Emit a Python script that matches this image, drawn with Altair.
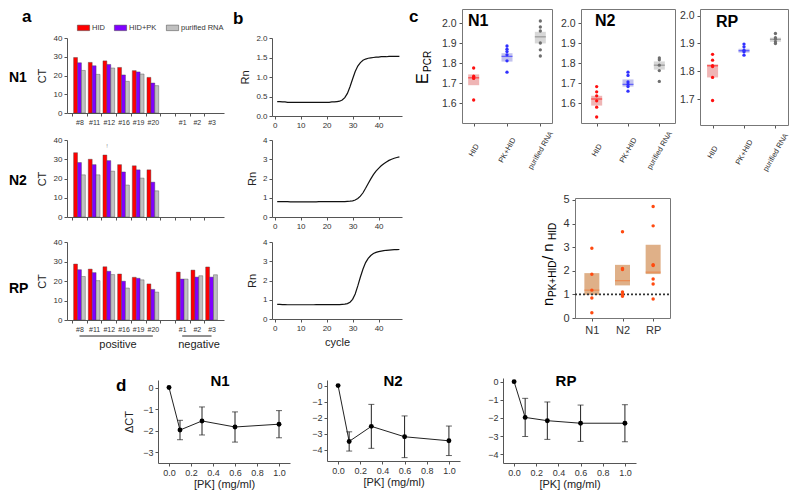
import altair as alt
import pandas as pd

FONT = "Liberation Sans"
W, H = 784, 482
M = 8


def px(v):
    return v - M


ONE = pd.DataFrame({"k": [0]})

# ---------------- panel a : CT bars ----------------
slots = ["#8", "#11", "#12", "#16", "#19", "#20", " ", "#1", "#2", "#3"]
samples_pos = ["#8", "#11", "#12", "#16", "#19", "#20"]
samples_all = ["#8", "#11", "#12", "#16", "#19", "#20", "#1", "#2", "#3"]
treatments = ["HID", "HID+PK", "purified RNA"]
bar_colors = ["#FF0000", "#8000FF", "#C0C0C0"]

ct_N1_HID = [29.6, 27.0, 27.8, 24.3, 22.6, 19.0]
ct_N1_PK = [26.8, 25.2, 25.9, 20.3, 21.9, 16.0]
ct_N1_RNA = [22.7, 20.6, 24.0, 16.9, 20.8, 14.6]
ct_N2_HID = [33.4, 30.0, 32.2, 27.2, 26.6, 24.5]
ct_N2_PK = [28.3, 27.2, 29.3, 23.4, 24.5, 18.1]
ct_N2_RNA = [21.9, 21.9, 23.8, 16.6, 20.2, 13.6]
ct_RP_HID = [28.7, 26.1, 27.3, 23.6, 21.9, 18.5, 24.6, 25.6, 27.2]
ct_RP_PK = [25.8, 24.3, 25.0, 19.9, 21.4, 15.7, 21.0, 22.0, 22.0]
ct_RP_RNA = [22.3, 20.2, 23.3, 16.4, 20.6, 14.3, 21.0, 22.7, 23.2]

# ---------------- panel b : amplification curves ----------------
cycles = list(range(1, 49))
rn_N1 = [0.37, 0.37, 0.36, 0.36, 0.35, 0.35, 0.35, 0.35, 0.35, 0.35,
         0.35, 0.35, 0.35, 0.35, 0.35, 0.35, 0.35, 0.35, 0.35, 0.35,
         0.35, 0.36, 0.36, 0.37, 0.38, 0.41, 0.47, 0.58, 0.75, 0.95,
         1.14, 1.28, 1.37, 1.43, 1.46, 1.48, 1.49, 1.50, 1.51, 1.51,
         1.52, 1.52, 1.52, 1.53, 1.53, 1.53, 1.53, 1.53]
rn_N2 = [0.80, 0.80, 0.80, 0.80, 0.80, 0.79, 0.79, 0.79, 0.79, 0.79,
         0.79, 0.79, 0.79, 0.79, 0.79, 0.79, 0.80, 0.80, 0.80, 0.80,
         0.80, 0.80, 0.80, 0.80, 0.80, 0.80, 0.80, 0.81, 0.82, 0.84,
         0.88, 0.96, 1.08, 1.26, 1.49, 1.74, 1.98, 2.20, 2.38, 2.53,
         2.66, 2.77, 2.86, 2.94, 3.00, 3.05, 3.09, 3.12]
rn_RP = [0.76, 0.76, 0.75, 0.75, 0.74, 0.74, 0.74, 0.74, 0.74, 0.74,
         0.74, 0.74, 0.74, 0.74, 0.74, 0.75, 0.75, 0.75, 0.75, 0.75,
         0.75, 0.75, 0.75, 0.75, 0.75, 0.76, 0.77, 0.80, 0.87, 1.02,
         1.30, 1.72, 2.18, 2.60, 2.93, 3.15, 3.30, 3.40, 3.46, 3.50,
         3.53, 3.55, 3.57, 3.58, 3.59, 3.60, 3.60, 3.61]

# ---------------- panel c : E_PCR ----------------
e_cats = ["HID", "PK+HID", "purified RNA"]
pt_colors = ["#FF1010", "#3030FF", "#6E6E6E"]
box_fill = ["#EBA3A3", "#B3B3EA", "#CDCDCD"]
mid_colors = ["#FF2020", "#3A3AFF", "#858585"]

e_N1_HID = [1.775, 1.734, 1.726, 1.723, 1.615]
e_N1_PK = [1.885, 1.869, 1.857, 1.841, 1.811, 1.754]
e_N1_RNA = [2.010, 1.980, 1.960, 1.900, 1.866, 1.835]
e_N1_box = [(1.689, 1.743, 1.726), (1.807, 1.849, 1.833), (1.898, 1.956, 1.931)]
e_N2_HID = [1.682, 1.656, 1.636, 1.611, 1.579, 1.530]
e_N2_PK = [1.754, 1.738, 1.705, 1.693, 1.682, 1.659]
e_N2_RNA = [1.825, 1.816, 1.789, 1.762, 1.708]
e_N2_box = [(1.587, 1.636, 1.620), (1.682, 1.718, 1.693), (1.767, 1.808, 1.789)]
e_RP_HID = [1.861, 1.840, 1.820, 1.817, 1.778, 1.695]
e_RP_PK = [1.898, 1.888, 1.876, 1.870, 1.858]
e_RP_RNA = [1.936, 1.921, 1.915, 1.906, 1.900]
e_RP_box = [(1.778, 1.825, 1.820), (1.867, 1.881, 1.874), (1.906, 1.921, 1.915)]

# ---------------- panel c (lower) : n ratio ----------------
n_cats = ["N1", "N2", "RP"]
n_N1 = [2.95, 1.85, 1.18, 0.85, 0.22]
n_N2 = [3.65, 2.10, 2.05, 1.10, 1.00, 0.92]
n_RP = [4.72, 3.90, 2.25, 2.22, 1.65, 1.44, 0.80]
n_box = [(0.98, 1.90, 1.18), (1.38, 2.25, 1.58), (1.86, 3.10, 1.94)]
n_ref = [1.0]

# ---------------- panel d : delta CT vs PK ----------------
pk_conc = [0.0, 0.1, 0.3, 0.6, 1.0]
d_N1_mean = [0.0, -1.97, -1.55, -1.83, -1.70]
d_N1_sd = [0.0, 0.45, 0.65, 0.70, 0.63]
d_N2_mean = [0.0, -3.48, -2.54, -3.19, -3.44]
d_N2_sd = [0.0, 0.60, 1.37, 1.30, 0.92]
d_RP_mean = [0.0, -1.97, -2.15, -2.29, -2.29]
d_RP_sd = [0.0, 1.05, 1.03, 1.00, 1.02]

# =====================================================================

def yaxis_left(xpage, **kw):
    return alt.Axis(orient="left", offset=-px(xpage), **kw)


def yaxis_right(xpage, **kw):
    return alt.Axis(orient="right", offset=px(xpage) - W, **kw)


def xaxis_bottom(ypage, **kw):
    return alt.Axis(orient="bottom", offset=px(ypage) - H, **kw)


def xaxis_top(ypage, **kw):
    return alt.Axis(orient="top", offset=-px(ypage), **kw)


def label(text, x, y, size, weight="normal", angle=0, align="left",
          baseline="alphabetic", color="#000000"):
    return alt.Chart(ONE).mark_text(
        text=text, fontSize=size, fontWeight=weight, angle=angle, align=align,
        baseline=baseline, color=color, font=FONT
    ).encode(x=alt.value(px(x)), y=alt.value(px(y)))


layers = []

# ---------------- panel a ----------------
def ct_frame(samples, hid, pk, rna):
    rows = []
    for t, vals in zip(treatments, [hid, pk, rna]):
        for s, v in zip(samples, vals):
            rows.append({"sample": s, "treat": t, "ct": v})
    return pd.DataFrame(rows)


A_X0, A_X1 = 67, 224
a_step = (A_X1 - A_X0) / (10 - 0.2 + 0.9)
a_xscale = alt.Scale(domain=slots, range=[px(A_X0), px(A_X1)],
                     paddingInner=0.2, paddingOuter=0.45)


def bar_panel(df, ytop, ybot, xlabels, legend):
    xax = xaxis_bottom(ybot, title=None, labels=xlabels, bandPosition=0.5,
                       tickOffset=-a_step / 2, labelOffset=a_step / 2,
                       labelFontSize=7, tickSize=3, labelPadding=2,
                       labelAngle=0)
    yax = yaxis_left(A_X0, title="CT", values=[0, 10, 20, 30, 40],
                     tickSize=3, labelFontSize=8, titleFontSize=11,
                     titlePadding=6)
    return alt.Chart(df).mark_bar(stroke="#444444", strokeWidth=0.4).encode(
        x=alt.X("sample:N", scale=a_xscale, sort=slots, axis=xax),
        xOffset=alt.XOffset("treat:N", scale=alt.Scale(domain=treatments),
                            sort=treatments),
        y=alt.Y("ct:Q", scale=alt.Scale(domain=[0, 40],
                                        range=[px(ybot), px(ytop)],
                                        nice=False, zero=False), axis=yax),
        color=alt.Color("treat:N",
                        scale=alt.Scale(domain=treatments, range=bar_colors),
                        legend=legend),
    )


leg = alt.Legend(orient="none", legendX=px(77), legendY=px(21), title=None,
                 direction="horizontal", symbolType="M-1,-0.45H1V0.45H-1Z",
                 symbolSize=150, symbolStrokeColor="#444444",
                 symbolStrokeWidth=0.5, labelFontSize=7.5, columnPadding=8,
                 labelOffset=2, padding=0, labelColor="#333333")

layers.append(bar_panel(ct_frame(samples_pos, ct_N1_HID, ct_N1_PK, ct_N1_RNA),
                        38, 113, True, leg))
layers.append(bar_panel(ct_frame(samples_pos, ct_N2_HID, ct_N2_PK, ct_N2_RNA),
                        140, 217, False, None))
layers.append(bar_panel(ct_frame(samples_all, ct_RP_HID, ct_RP_PK, ct_RP_RNA),
                        242, 320, True, None))
layers.append(label("!", 107, 148, 6, color="#888888", align="center"))

# positive / negative brackets
for a, b in [("#8", "#20"), ("#1", "#3")]:
    layers.append(alt.Chart(pd.DataFrame({"a": [a], "b": [b]})).mark_rule(
        color="#222222", strokeWidth=1).encode(
        x=alt.X("a:N", scale=a_xscale, sort=slots, axis=None),
        x2="b:N", y=alt.value(px(336))))
layers.append(label("positive", 118, 348, 11, align="center", color="#222"))
layers.append(label("negative", 199, 348, 11, align="center", color="#222"))

# ---------------- panel b ----------------
B_X0, B_X1 = 272, 402
b_xdom = [-1, 49]


def curve_panel(vals, ytop, ybot, ydom, yvals, yfmt, xtitle):
    df = pd.DataFrame({"cycle": cycles, "rn": vals})
    xax = xaxis_bottom(ybot, values=[0, 10, 20, 30, 40], title=xtitle,
                       tickSize=3, labelFontSize=8, titleFontSize=11,
                       titleFontWeight="normal", titlePadding=4)
    yax = yaxis_left(B_X0, values=yvals, format=yfmt, title="Rn",
                     tickSize=3, labelFontSize=8, titleFontSize=11,
                     titlePadding=5)
    return alt.Chart(df).mark_line(color="#111111", strokeWidth=1.2).encode(
        x=alt.X("cycle:Q", scale=alt.Scale(domain=b_xdom,
                                           range=[px(B_X0), px(B_X1)],
                                           nice=False, zero=False), axis=xax),
        y=alt.Y("rn:Q", scale=alt.Scale(domain=ydom,
                                        range=[px(ybot), px(ytop)],
                                        nice=False, zero=False), axis=yax),
    )


layers.append(curve_panel(rn_N1, 38, 116, [0, 2], [0, 0.5, 1.0, 1.5, 2.0],
                          ".1f", None))
layers.append(curve_panel(rn_N2, 140, 217, [0, 4], [0, 1, 2, 3, 4], "d", None))
layers.append(curve_panel(rn_RP, 242, 319, [0, 4], [0, 1, 2, 3, 4], "d",
                          "cycle"))

# ---------------- panel c : E_PCR ----------------
def epcr_panel(pts_lists, boxes, xl, xr, pad, ydom, yvals, ytop, ybot):
    pts = pd.DataFrame([{"cat": c, "v": v}
                        for c, lst in zip(e_cats, pts_lists) for v in lst])
    bx = pd.DataFrame([{"cat": c, "lo": b[0], "hi": b[1], "mid": b[2]}
                       for c, b in zip(e_cats, boxes)])
    xs = alt.Scale(type="point", domain=e_cats, range=[px(xl), px(xr)],
                   padding=pad)
    ys = alt.Scale(domain=ydom, range=[px(ybot), px(ytop)], nice=False,
                   zero=False)
    frame = dict(domainColor="#777777", ticks=False, labels=False, title=None)
    box = alt.Chart(bx).mark_bar(width=11, opacity=0.8).encode(
        x=alt.X("cat:N", scale=xs, sort=e_cats,
                axis=xaxis_bottom(ybot, title=None, labelAngle=300,
                                  labelAlign="center", labelBaseline="middle",
                                  labelPadding=24, labelFontSize=7.5,
                                  tickSize=3, domainColor="#777777")),
        y=alt.Y("lo:Q", scale=ys,
                axis=yaxis_left(xl, title=None, values=yvals, format=".1f",
                                tickSize=3, labelFontSize=10.5,
                                labelPadding=3, domainColor="#777777")),
        y2="hi:Q",
        color=alt.Color("cat:N", scale=alt.Scale(domain=e_cats,
                                                 range=box_fill), legend=None),
    )
    mid = alt.Chart(bx).mark_tick(size=11, thickness=1.3,
                                  orient="horizontal").encode(
        x=alt.X("cat:N", scale=xs, sort=e_cats, axis=xaxis_top(ytop, **frame)),
        y=alt.Y("mid:Q", scale=ys, axis=yaxis_right(xr, **frame)),
        color=alt.Color("cat:N", scale=alt.Scale(domain=e_cats,
                                                 range=mid_colors),
                        legend=None),
    )
    dots = alt.Chart(pts).mark_circle(size=11, opacity=1).encode(
        x=alt.X("cat:N", scale=xs, sort=e_cats, axis=None),
        y=alt.Y("v:Q", scale=ys, axis=None),
        color=alt.Color("cat:N", scale=alt.Scale(domain=e_cats,
                                                 range=pt_colors),
                        legend=None),
    )
    return [box, mid, dots]


layers += epcr_panel([e_N1_HID, e_N1_PK, e_N1_RNA], e_N1_box, 462, 552, 0.35,
                     [1.5, 2.07], [1.6, 1.7, 1.8, 1.9, 2.0], 9, 123)
layers += epcr_panel([e_N2_HID, e_N2_PK, e_N2_RNA], e_N2_box, 581, 675, 0.5,
                     [1.5, 2.07], [1.6, 1.7, 1.8, 1.9, 2.0], 9, 123)
layers += epcr_panel([e_RP_HID, e_RP_PK, e_RP_RNA], e_RP_box, 700, 788, 0.4,
                     [1.607, 2.024], [1.7, 1.8, 1.9, 2.0], 9, 125)

layers.append(label("N1", 468, 26, 16, weight="bold"))
layers.append(label("N2", 595, 26, 16, weight="bold"))
layers.append(label("RP", 716, 27, 16, weight="bold"))
layers.append(label("E", 428, 84, 16, angle=270))
layers.append(label("PCR", 431, 72, 10, angle=270))

# ---------------- panel c lower : n ratio ----------------
NX0, NX1, NY0, NY1 = 575, 670, 198, 318
n_xs = alt.Scale(type="point", domain=n_cats, range=[px(NX0), px(NX1)],
                 padding=0.55)
n_ys = alt.Scale(domain=[0, 5.08], range=[px(NY1), px(NY0)], nice=False,
                 zero=False)
n_pts = pd.DataFrame([{"cat": c, "v": v}
                      for c, lst in zip(n_cats, [n_N1, n_N2, n_RP])
                      for v in lst])
n_bx = pd.DataFrame([{"cat": c, "lo": b[0], "hi": b[1], "mid": b[2]}
                     for c, b in zip(n_cats, n_box)])
frame = dict(domainColor="#777777", ticks=False, labels=False, title=None)
layers.append(alt.Chart(n_bx).mark_bar(width=15, color="#D9A273",
                                       opacity=0.85).encode(
    x=alt.X("cat:N", scale=n_xs, sort=n_cats,
            axis=xaxis_bottom(NY1, title=None, labelAngle=0, tickSize=3,
                              labelFontSize=11, labelPadding=3,
                              domainColor="#777777")),
    y=alt.Y("lo:Q", scale=n_ys,
            axis=yaxis_left(NX0, title=None, values=[0, 1, 2, 3, 4, 5],
                            tickSize=3, labelFontSize=11, labelPadding=3,
                            domainColor="#777777")),
    y2="hi:Q"))
layers.append(alt.Chart(n_bx).mark_tick(size=15, thickness=1.2,
                                        orient="horizontal",
                                        color="#F07A3A").encode(
    x=alt.X("cat:N", scale=n_xs, sort=n_cats, axis=xaxis_top(NY0, **frame)),
    y=alt.Y("mid:Q", scale=n_ys, axis=yaxis_right(NX1, **frame))))
layers.append(alt.Chart(pd.DataFrame({"x0": [0], "x1": [1], "y": n_ref}))
              .mark_rule(color="#333333", strokeWidth=1.6,
                         strokeDash=[2, 2]).encode(
    x=alt.X("x0:Q", scale=alt.Scale(domain=[0, 1], range=[px(NX0), px(NX1)]),
            axis=None),
    x2="x1:Q",
    y=alt.Y("y:Q", scale=n_ys, axis=None)))
layers.append(alt.Chart(n_pts).mark_circle(size=12, color="#FF4A10",
                                           opacity=1).encode(
    x=alt.X("cat:N", scale=n_xs, sort=n_cats, axis=None),
    y=alt.Y("v:Q", scale=n_ys, axis=None)))
layers.append(label("n", 553, 306, 15, angle=270))
layers.append(label("PK+HID", 556, 297, 10, angle=270))
layers.append(label("/ n", 553, 260, 15, angle=270))
layers.append(label("HID", 556, 240, 10, angle=270))

# ---------------- panel d ----------------
def d_panel(means, sds, xl, xr, ydom, ytop, ybot, yvals, ytitle):
    df = pd.DataFrame({"c": pk_conc, "m": means})
    err = pd.DataFrame({"c": [c for c, s in zip(pk_conc, sds) if s > 0],
                        "lo": [m - s for m, s in zip(means, sds) if s > 0],
                        "hi": [m + s for m, s in zip(means, sds) if s > 0]})
    caps = pd.DataFrame({"c": list(err["c"]) * 2,
                         "v": list(err["lo"]) + list(err["hi"])})
    xs = alt.Scale(domain=[-0.1, 1.1], range=[px(xl), px(xr)], nice=False,
                   zero=False)
    ys = alt.Scale(domain=ydom, range=[px(ybot), px(ytop)], nice=False,
                   zero=False)
    line = alt.Chart(df).mark_line(color="#222222", strokeWidth=1).encode(
        x=alt.X("c:Q", scale=xs,
                axis=xaxis_bottom(ybot, values=[0, 0.2, 0.4, 0.6, 0.8, 1.0],
                                  format=".1f", title="[PK] (mg/ml)",
                                  tickSize=3, labelFontSize=9,
                                  titleFontSize=11, titlePadding=1)),
        y=alt.Y("m:Q", scale=ys,
                axis=yaxis_left(xl, values=yvals, format="d", title=ytitle,
                                tickSize=3, labelFontSize=9, titleFontSize=11,
                                titlePadding=8)))
    rule = alt.Chart(err).mark_rule(color="#222222", strokeWidth=1).encode(
        x=alt.X("c:Q", scale=xs, axis=None),
        y=alt.Y("lo:Q", scale=ys, axis=None), y2="hi:Q")
    cap = alt.Chart(caps).mark_tick(color="#222222", size=6, thickness=1,
                                    orient="horizontal").encode(
        x=alt.X("c:Q", scale=xs, axis=None),
        y=alt.Y("v:Q", scale=ys, axis=None))
    pts = alt.Chart(df).mark_circle(color="#000000", size=24,
                                    opacity=1).encode(
        x=alt.X("c:Q", scale=xs, axis=None),
        y=alt.Y("m:Q", scale=ys, axis=None))
    return [line, rule, cap, pts]


layers += d_panel(d_N1_mean, d_N1_sd, 158, 290, [-3.5, 0.35], 380, 463,
                  [0, -1, -2, -3], "ΔCT")
layers += d_panel(d_N2_mean, d_N2_sd, 327, 460, [-4.7, 0.35], 380, 461,
                  [0, -1, -2, -3, -4], None)
layers += d_panel(d_RP_mean, d_RP_sd, 503, 636, [-4.48, 0.2], 378, 463,
                  [0, -1, -2, -3, -4], None)
layers.append(label("N1", 220, 386, 15, weight="bold", align="center"))
layers.append(label("N2", 393, 386, 15, weight="bold", align="center"))
layers.append(label("RP", 566, 386, 15, weight="bold", align="center"))

# ---------------- panel letters & row labels ----------------
layers.append(label("a", 22, 22, 17, weight="bold"))
layers.append(label("b", 233, 24, 17, weight="bold"))
layers.append(label("c", 409, 22, 17, weight="bold"))
layers.append(label("d", 116, 391, 17, weight="bold"))
layers.append(label("N1", 9, 82, 14, weight="bold"))
layers.append(label("N2", 9, 185, 14, weight="bold"))
layers.append(label("RP", 9, 293, 14, weight="bold"))

chart = alt.layer(*layers).resolve_scale(
    x="independent", y="independent", color="independent",
    xOffset="independent"
).properties(
    width=W, height=H, autosize=alt.AutoSizeParams(type="none"), padding=0
).configure_view(stroke=None).configure_axis(
    grid=False, labelFont=FONT, titleFont=FONT, labelColor="#333333",
    titleColor="#222222", domainColor="#555555", tickColor="#555555",
    labelFlush=False, labelOverlap=False, titleFontWeight="normal"
).configure_legend(labelFont=FONT).configure_text(font=FONT)

chart.save("out.html", embed_options={"renderer": "svg", "actions": False})
